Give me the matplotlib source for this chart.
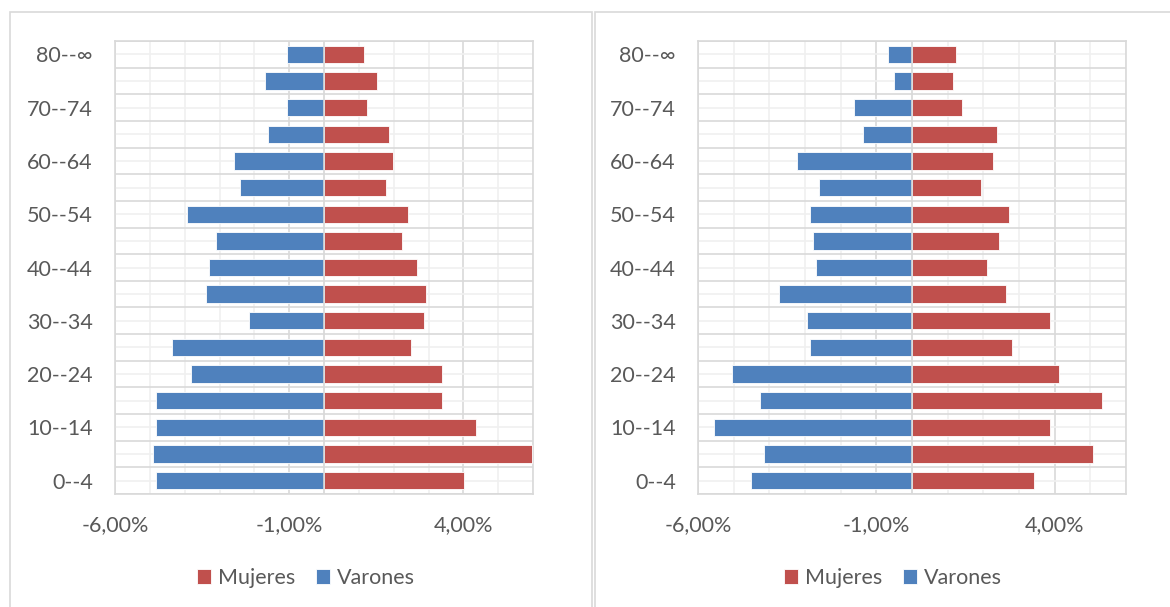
import matplotlib.pyplot as plt
import numpy as np
from matplotlib.ticker import FixedLocator, MultipleLocator, FuncFormatter
from matplotlib.patches import Rectangle

plt.rcParams['font.family'] = ['Lato', 'DejaVu Sans']

# Age groups, bottom to top
grupos = ['0--4', '5--9', '10--14', '15--19', '20--24', '25--29', '30--34', '35--39',
          '40--44', '45--49', '50--54', '55--59', '60--64', '65--69', '70--74', '75--79', '80--∞']

# Left pyramid (% of population)
varones_1 = [-4.82, -4.91, -4.82, -4.82, -3.83, -4.37, -2.14, -3.39, -3.30, -3.11,
             -3.92, -2.41, -2.58, -1.61, -1.07, -1.69, -1.07]
mujeres_1 = [4.01, 5.98, 4.37, 3.38, 3.38, 2.50, 2.86, 2.94, 2.67, 2.23,
             2.40, 1.78, 1.97, 1.87, 1.24, 1.51, 1.16]

# Right pyramid (% of population)
varones_2 = [-4.52, -4.16, -5.56, -4.26, -5.04, -2.86, -2.94, -3.73, -2.68, -2.78,
             -2.86, -2.60, -3.22, -1.38, -1.63, -0.50, -0.67]
mujeres_2 = [3.41, 5.07, 3.86, 5.33, 4.12, 2.81, 3.86, 2.63, 2.11, 2.45,
             2.71, 1.93, 2.28, 2.38, 1.41, 1.15, 1.23]

azul = '#4F81BD'
rojo = '#C0504D'
gris_txt = '#595959'
grid_major = '#D9D9D9'
grid_minor = '#F0F0F0'
fs = 15.5

fig = plt.figure(figsize=(11.7, 6.07), dpi=100)

# chart frames (Excel-like)
fig.patches.append(Rectangle((10 / 1170, -0.05), 582 / 1170, 1.0 - 12 / 607 + 0.05,
                             transform=fig.transFigure, fill=False,
                             edgecolor=grid_major, linewidth=1.2))
fig.patches.append(Rectangle((595 / 1170, -0.05), 1.0, 1.0 - 12 / 607 + 0.05,
                             transform=fig.transFigure, fill=False,
                             edgecolor=grid_major, linewidth=1.2))


def pct(x, pos):
    return f"{x:.2f}%".replace('.', ',')


def piramide(rect, varones, mujeres, legend_x):
    ax = fig.add_axes(rect)
    y = np.arange(len(grupos))
    ax.barh(y, mujeres, height=0.65, color=rojo, edgecolor='white', linewidth=0.6,
            label='Mujeres', zorder=3)
    ax.barh(y, varones, height=0.65, color=azul, edgecolor='white', linewidth=0.6,
            label='Varones', zorder=3)
    ax.axvline(0, color=grid_major, linewidth=1.2, zorder=4)

    ax.set_xlim(-6, 6)
    ax.set_ylim(-0.5, len(grupos) - 0.5)
    ax.xaxis.set_major_locator(FixedLocator([-6, -1, 4]))
    ax.xaxis.set_minor_locator(MultipleLocator(1))
    ax.xaxis.set_major_formatter(FuncFormatter(pct))
    ax.set_yticks(y[::2])
    ax.set_yticklabels(grupos[::2])
    ax.yaxis.set_minor_locator(FixedLocator(np.arange(-0.5, len(grupos), 1)))

    # gridlines
    for xv in range(-6, 7):
        c = grid_major if xv in (-6, -1, 4) else grid_minor
        ax.axvline(xv, color=c, linewidth=1.2, zorder=1)
    for yv in np.arange(-0.5, len(grupos), 1):
        ax.axhline(yv, color=grid_major, linewidth=1.2, zorder=1)
    for yv in y:
        ax.axhline(yv, color=grid_minor, linewidth=1.2, zorder=1)

    ax.tick_params(axis='both', which='both', length=0, labelsize=fs,
                   colors=gris_txt)
    ax.tick_params(axis='x', pad=15)
    ax.tick_params(axis='y', pad=16)
    for s in ax.spines.values():
        s.set_color(grid_major)
        s.set_linewidth(1.2)

    leg = fig.legend(handles=ax.get_legend_handles_labels()[0],
                     labels=['Mujeres', 'Varones'], loc='center',
                     bbox_to_anchor=(legend_x, 1 - 578 / 607), ncol=2,
                     frameon=False, fontsize=fs, handlelength=0.65,
                     handleheight=0.65, handletextpad=0.3, columnspacing=1.0)
    for t in leg.get_texts():
        t.set_color(gris_txt)
    return ax


piramide([115 / 1170, 113 / 607, 418 / 1170, 453 / 607], varones_1, mujeres_1, 306 / 1170)
piramide([698 / 1170, 113 / 607, 428 / 1170, 453 / 607], varones_2, mujeres_2, 893 / 1170)

fig.savefig('out.png', dpi=100)
